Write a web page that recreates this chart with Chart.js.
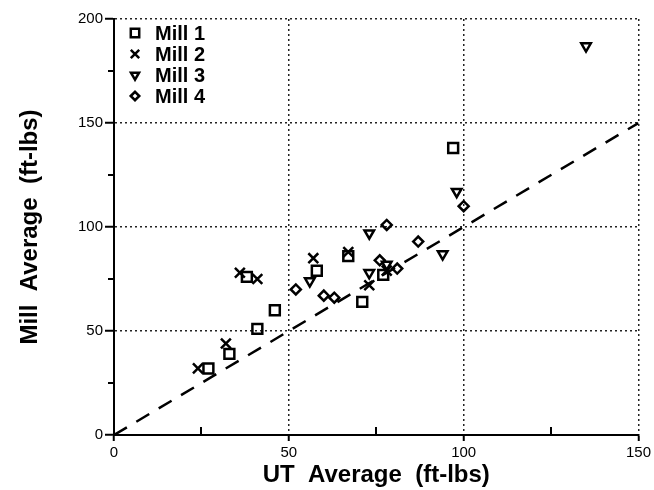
<!DOCTYPE html>
<html>
<head>
<meta charset="utf-8">
<script src="https://cdn.jsdelivr.net/npm/chart.js@4"></script>
<style>
  html, body { margin: 0; padding: 0; background: #fff; }
  #wrap { width: 654px; height: 490px; }
</style>
</head>
<body>
<div id="wrap"><canvas id="chart" width="654" height="490"></canvas></div>
<script>
// --- DATA ---
const MILL_NAMES = ['Mill 1', 'Mill 2', 'Mill 3', 'Mill 4'];

const mill1 = [[27, 32], [33, 39], [41, 51], [46, 60], [38, 76], [58, 79], [67, 86], [71, 64], [77, 77], [97, 138]];
const mill2 = [[24, 32], [32, 44], [36, 78], [41, 75], [57, 85], [67, 88], [73, 72], [78, 79]];
const mill3 = [[56, 74], [73, 97], [73, 78], [78, 82], [94, 87], [98, 117], [135, 187]];
const mill4 = [[52, 70], [60, 67], [63, 66], [76, 84], [78, 101], [81, 80], [87, 93], [100, 110]];
const equalityLine = [[0, 0], [150, 150]];

const X_MIN = 0, X_MAX = 150;
const Y_MIN = 0, Y_MAX = 200;
const TICK_STEP = 25;
const LABEL_STEP = 50;

const FONT = '"Liberation Sans", Arial, sans-serif';

function toPoints(arr) {
    return arr.map(p => ({ x: p[0], y: p[1] }));
}

function markerSet(label, data, style, radius, rotation) {
    return {
        label: label,
        data: toPoints(data),
        showLine: false,
        pointStyle: style,
        pointRadius: radius,
        pointHoverRadius: radius,
        pointRotation: rotation,
        pointBorderColor: '#000',
        pointBackgroundColor: 'rgba(0,0,0,0)',
        pointBorderWidth: 2.5,
        borderColor: '#000',
        backgroundColor: 'rgba(0,0,0,0)'
    };
}

// minor tick marks (y: outward, x: inward), like the original plot
const minorTicks = {
    id: 'minorTicks',
    afterDraw(chart) {
        const ctx = chart.ctx;
        const xs = chart.scales.x, ys = chart.scales.y;
        const area = chart.chartArea;
        ctx.save();
        ctx.strokeStyle = '#000';
        ctx.lineWidth = 2;
        for (let v = Y_MIN; v <= Y_MAX; v += TICK_STEP) {
            if (v % LABEL_STEP === 0) continue;
            const py = Math.round(ys.getPixelForValue(v));
            ctx.beginPath();
            ctx.moveTo(area.left - 6, py);
            ctx.lineTo(area.left, py);
            ctx.stroke();
        }
        for (let v = X_MIN; v <= X_MAX; v += TICK_STEP) {
            if (v % LABEL_STEP === 0) continue;
            const px = Math.round(xs.getPixelForValue(v));
            ctx.beginPath();
            ctx.moveTo(px, area.bottom);
            ctx.lineTo(px, area.bottom - 8);
            ctx.stroke();
        }
        ctx.restore();
    }
};

// legend drawn inside the plot, top-left
const millLegend = {
    id: 'millLegend',
    afterDraw(chart) {
        const ctx = chart.ctx;
        const area = chart.chartArea;
        ctx.save();
        MILL_NAMES.forEach((name, i) => {
            const ds = chart.data.datasets[i];
            const y = area.top + 14 + i * 21;
            const mx = area.left + 21;
            ctx.strokeStyle = '#000';
            ctx.fillStyle = 'rgba(0,0,0,0)';
            ctx.lineWidth = 2.5;
            if (Chart.helpers && Chart.helpers.drawPoint) {
                Chart.helpers.drawPoint(ctx, {
                    pointStyle: ds.pointStyle,
                    radius: ds.pointRadius * 0.85,
                    rotation: ds.pointRotation,
                    borderWidth: 2.5
                }, mx, y);
            } else {
                ctx.strokeRect(mx - 4, y - 4, 8, 8);
            }
            ctx.fillStyle = '#000';
            ctx.font = 'bold 20px ' + FONT;
            ctx.textBaseline = 'middle';
            ctx.textAlign = 'left';
            ctx.fillText(name, area.left + 41, y + 1);
        });
        ctx.restore();
    }
};

const gridColor = (ctx) => (ctx.tick && ctx.tick.value % LABEL_STEP === 0 && ctx.tick.value > 0) ? '#222' : 'rgba(0,0,0,0)';
const tickColor = (ctx) => (ctx.tick && ctx.tick.value % LABEL_STEP === 0) ? '#000' : 'rgba(0,0,0,0)';
const tickLabel = (v) => (v % LABEL_STEP === 0 ? String(v) : '');

const chart = new Chart(document.getElementById('chart').getContext('2d'), {
    type: 'scatter',
    data: {
        datasets: [
            markerSet('Mill 1', mill1, 'rect', 7, 0),
            markerSet('Mill 2', mill2, 'crossRot', 7, 0),
            markerSet('Mill 3', mill3, 'triangle', 5.5, 180),
            markerSet('Mill 4', mill4, 'rectRot', 5, 0),
            {
                type: 'line',
                label: 'Equality',
                data: toPoints(equalityLine),
                showLine: true,
                borderColor: '#000',
                borderWidth: 2.5,
                borderDash: [15, 11],
                pointRadius: 0,
                fill: false
            }
        ]
    },
    options: {
        responsive: false,
        animation: false,
        layout: { padding: { left: 0, right: 14, top: 19, bottom: 0 } },
        plugins: {
            legend: { display: false },
            tooltip: { enabled: false }
        },
        scales: {
            x: {
                type: 'linear',
                min: X_MIN,
                max: X_MAX,
                afterFit: (s) => { s.height = 55; },
                ticks: {
                    stepSize: TICK_STEP,
                    autoSkip: false,
                    maxRotation: 0,
                    padding: 3,
                    color: '#000',
                    font: { family: FONT, size: 15 },
                    callback: tickLabel
                },
                grid: {
                    color: gridColor,
                    lineWidth: 1.5,
                    tickLength: 6,
                    tickColor: tickColor,
                    tickWidth: 2
                },
                border: { display: true, color: '#000', width: 2, dash: [2, 3] },
                title: {
                    display: true,
                    text: 'UT  Average  (ft-lbs)',
                    color: '#000',
                    font: { family: FONT, size: 24, weight: 'bold' },
                    padding: { top: 0, bottom: 0 }
                }
            },
            y: {
                type: 'linear',
                min: Y_MIN,
                max: Y_MAX,
                afterFit: (s) => { s.width = 114; },
                ticks: {
                    stepSize: TICK_STEP,
                    autoSkip: false,
                    padding: 2,
                    color: '#000',
                    font: { family: FONT, size: 15 },
                    callback: tickLabel
                },
                grid: {
                    color: gridColor,
                    lineWidth: 1.5,
                    tickLength: 9,
                    tickColor: tickColor,
                    tickWidth: 2
                },
                border: { display: true, color: '#000', width: 2, dash: [2, 3] },
                title: {
                    display: true,
                    text: 'Mill  Average  (ft-lbs)',
                    color: '#000',
                    font: { family: FONT, size: 24, weight: 'bold' },
                    padding: { top: 16, bottom: 0 }
                }
            }
        }
    },
    plugins: [minorTicks, millLegend]
});
</script>
</body>
</html>
